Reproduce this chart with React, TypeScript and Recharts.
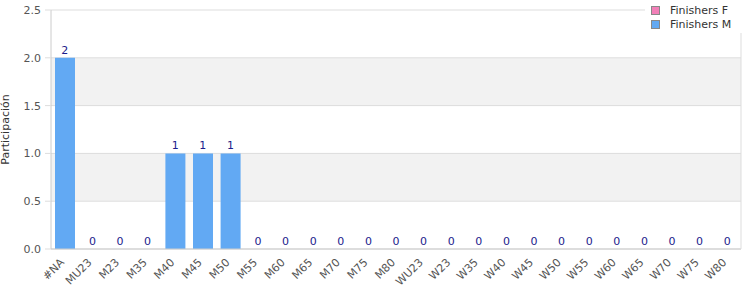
import { ComposedChart, Bar, Line, XAxis, YAxis, CartesianGrid, LabelList } from "recharts";

const categories = [
  "#NA", "MU23", "M23", "M35", "M40", "M45", "M50", "M55", "M60", "M65", "M70", "M75", "M80",
  "WU23", "W23", "W35", "W40", "W45", "W50", "W55", "W60", "W65", "W70", "W75", "W80",
];
const finishersF = [0, 0, 0, 0, 0, 0, 0, 0, 0, 0, 0, 0, 0, 0, 0, 0, 0, 0, 0, 0, 0, 0, 0, 0, 0];
const finishersM = [2, 0, 0, 0, 1, 1, 1, 0, 0, 0, 0, 0, 0, 0, 0, 0, 0, 0, 0, 0, 0, 0, 0, 0, 0];
const yTicks = [0, 0.5, 1, 1.5, 2, 2.5];

const data = categories.map((name, i) => ({
  name,
  f: finishersF[i],
  m: finishersM[i],
}));

const FONT = "'DejaVu Sans', sans-serif";

const legendItems = [
  { label: "Finishers F", color: "#f27fb8" },
  { label: "Finishers M", color: "#62a9f3" },
];

function LegendBox() {
  return (
    <div
      style={{
        position: "absolute",
        top: 2,
        left: 645,
        width: 96,
        background: "#fff",
        padding: "1px 0 2px 6px",
        fontFamily: FONT,
        fontSize: 11,
        color: "#333",
      }}
    >
      {legendItems.map((it) => (
        <div key={it.label} style={{ display: "flex", alignItems: "center", height: 14 }}>
          <span
            style={{
              width: 7,
              height: 7,
              background: it.color,
              border: "1px solid #888",
              marginRight: 10,
              display: "inline-block",
            }}
          />
          {it.label}
        </div>
      ))}
    </div>
  );
}

function XTick({ x, y, payload }: any) {
  return (
    <text
      x={x}
      y={y + 6}
      transform={`rotate(-45 ${x} ${y + 6})`}
      textAnchor="end"
      fontFamily={FONT}
      fontSize={11}
      fill="#555"
    >
      {payload.value}
    </text>
  );
}

export default function App() {
  return (
    <div style={{ position: "absolute", left: 0, top: 0, width: 750, height: 300 }}>
      <ComposedChart
        width={750}
        height={300}
        data={data}
        margin={{ top: 10, right: 0, bottom: 0, left: 0 }}
        barCategoryGap={0}
      >
        <CartesianGrid
          vertical={false}
          stroke="#dddddd"
          horizontalFill={["#ffffff", "#f2f2f2"]}
          fillOpacity={1}
        />
        <XAxis
          dataKey="name"
          height={51}
          interval={0}
          tick={<XTick />}
          tickLine={false}
          axisLine={{ stroke: "#cccccc" }}
        />
        <XAxis xAxisId="f" dataKey="name" hide />
        <YAxis
          width={51}
          domain={[0, 2.5]}
          ticks={yTicks}
          tickFormatter={(v: number) => v.toFixed(1)}
          tick={{ fontFamily: FONT, fontSize: 11, fill: "#555" }}
          tickSize={6}
          tickMargin={4}
          tickLine={{ stroke: "#dddddd" }}
          axisLine={{ stroke: "#cccccc" }}
          label={{
            value: "Participación",
            angle: -90,
            position: "insideLeft",
            style: { fontFamily: FONT, fontSize: 11, fill: "#333", textAnchor: "middle" },
          }}
        />
        <YAxis
          yAxisId="r"
          orientation="right"
          width={9}
          domain={[0, 2.5]}
          tick={false}
          tickLine={false}
          axisLine={{ stroke: "#dddddd" }}
        />
        <Bar dataKey="f" xAxisId="f" fill="#f27fb8" barSize={20} isAnimationActive={false} />
        <Bar dataKey="m" fill="#62a9f3" barSize={20} isAnimationActive={false} />
        <Line
          dataKey="m"
          stroke="none"
          dot={false}
          activeDot={false}
          legendType="none"
          isAnimationActive={false}
        >
          <LabelList dataKey="m" position="top" fill="#1c1c8c" fontFamily={FONT} fontSize={11} offset={4} />
        </Line>
      </ComposedChart>
      <LegendBox />
    </div>
  );
}
